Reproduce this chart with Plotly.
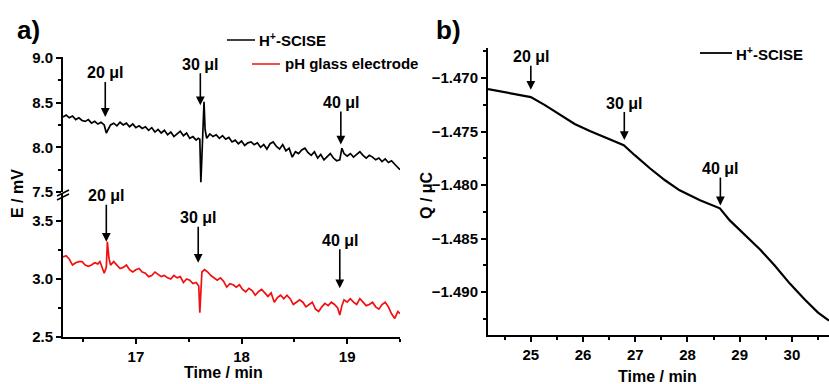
import plotly.graph_objects as go

# ---------------- data ----------------
# Panel a: H+-SCISE potential (mV), upper part
t_scise = [16.31, 16.34, 16.37, 16.40, 16.43, 16.46, 16.49, 16.52, 16.55, 16.58, 16.61, 16.64, 16.67, 16.70,
           16.72, 16.74, 16.76, 16.79, 16.82, 16.85, 16.88, 16.91, 16.94, 16.97, 17.00, 17.03, 17.06, 17.09,
           17.12, 17.15, 17.18, 17.21, 17.24, 17.27, 17.30, 17.33, 17.36, 17.39, 17.42, 17.45, 17.48, 17.51,
           17.54, 17.57, 17.59, 17.605, 17.615, 17.625, 17.635, 17.645, 17.655, 17.67, 17.70, 17.73, 17.76,
           17.79, 17.82, 17.85, 17.88, 17.91, 17.94, 17.97, 18.00, 18.03, 18.06, 18.09, 18.12, 18.15, 18.18,
           18.21, 18.24, 18.27, 18.30, 18.33, 18.36, 18.39, 18.42, 18.45, 18.48, 18.51, 18.54, 18.57, 18.60,
           18.63, 18.66, 18.69, 18.72, 18.75, 18.78, 18.81, 18.84, 18.87, 18.90, 18.93, 18.95, 18.97, 19.00,
           19.03, 19.06, 19.09, 19.12, 19.15, 19.18, 19.21, 19.24, 19.27, 19.30, 19.33, 19.36, 19.39, 19.42,
           19.45, 19.48, 19.50]
e_scise = [8.34, 8.36, 8.33, 8.35, 8.31, 8.33, 8.30, 8.29, 8.31, 8.27, 8.29, 8.26, 8.28, 8.25,
           8.16, 8.21, 8.25, 8.27, 8.24, 8.28, 8.25, 8.27, 8.23, 8.26, 8.22, 8.24, 8.21, 8.23,
           8.19, 8.22, 8.17, 8.20, 8.16, 8.19, 8.14, 8.17, 8.12, 8.15, 8.18, 8.13, 8.16, 8.10,
           8.12, 8.08, 8.10, 8.09, 7.61, 7.90, 8.30, 8.51, 8.20, 8.10, 8.15, 8.12, 8.14,
           8.10, 8.13, 8.09, 8.11, 8.06, 8.08, 8.04, 8.07, 8.02, 8.05, 8.06, 8.03, 8.05, 8.00,
           8.03, 7.98, 8.04, 8.06, 8.01, 7.98, 8.03, 7.96, 7.99, 7.89, 7.95, 7.93, 7.97, 7.99,
           7.94, 7.91, 7.95, 7.88, 7.92, 7.86, 7.90, 7.93, 7.88, 7.85, 7.86, 7.99, 7.93, 7.90,
           7.93, 7.89, 7.92, 7.95, 7.91, 7.88, 7.91, 7.89, 7.86, 7.88, 7.84, 7.87, 7.83, 7.85,
           7.81, 7.77, 7.75]

# Panel a: pH glass electrode potential (mV), lower part
t_glass = [16.31, 16.34, 16.37, 16.40, 16.43, 16.46, 16.49, 16.52, 16.55, 16.58, 16.61, 16.64, 16.66, 16.69,
           16.70, 16.72, 16.73, 16.745, 16.76, 16.79, 16.82, 16.85, 16.88, 16.91, 16.94, 16.97, 17.00, 17.03,
           17.06, 17.09, 17.12, 17.15, 17.18, 17.21, 17.24, 17.27, 17.30, 17.33, 17.36, 17.39, 17.42, 17.45,
           17.48, 17.51, 17.54, 17.57, 17.595, 17.605, 17.615, 17.625, 17.65, 17.68, 17.71, 17.74, 17.77,
           17.80, 17.83, 17.86, 17.89, 17.92, 17.95, 17.98, 18.01, 18.04, 18.07, 18.10, 18.13, 18.16, 18.19,
           18.22, 18.25, 18.28, 18.31, 18.34, 18.37, 18.40, 18.43, 18.46, 18.49, 18.52, 18.55, 18.58, 18.61,
           18.64, 18.67, 18.70, 18.73, 18.76, 18.79, 18.82, 18.85, 18.88, 18.91, 18.93, 18.95, 18.97, 19.00,
           19.03, 19.06, 19.09, 19.12, 19.15, 19.18, 19.21, 19.24, 19.27, 19.30, 19.33, 19.36, 19.39, 19.42,
           19.45, 19.48, 19.50]
e_glass = [3.19, 3.20, 3.17, 3.12, 3.14, 3.15, 3.15, 3.12, 3.11, 3.12, 3.14, 3.13, 3.15, 3.08,
           3.05, 3.10, 3.32, 3.18, 3.12, 3.15, 3.12, 3.09, 3.10, 3.12, 3.08, 3.06, 3.08, 3.09,
           3.06, 3.05, 3.02, 3.03, 3.06, 3.04, 3.02, 3.03, 3.01, 3.00, 3.03, 3.01, 3.02, 2.97,
           3.00, 2.99, 2.96, 2.97, 2.94, 2.71, 2.95, 3.06, 3.08, 3.06, 3.03, 3.01, 2.99,
           3.01, 2.98, 2.93, 2.96, 2.95, 2.93, 2.95, 2.91, 2.89, 2.92, 2.90, 2.86, 2.89, 2.91,
           2.88, 2.85, 2.88, 2.80, 2.84, 2.86, 2.83, 2.86, 2.83, 2.78, 2.80, 2.82, 2.80, 2.76,
           2.78, 2.80, 2.74, 2.72, 2.76, 2.79, 2.77, 2.80, 2.78, 2.75, 2.69, 2.77, 2.82, 2.80,
           2.83, 2.80, 2.78, 2.83, 2.80, 2.77, 2.78, 2.80, 2.76, 2.74, 2.78, 2.80, 2.76, 2.70,
           2.66, 2.72, 2.70]

# Panel b: charge (uC)
t_charge = [24.18, 24.60, 25.00, 25.27, 25.56, 25.84, 26.13, 26.51, 26.78, 26.99, 27.28, 27.57, 27.85,
            28.24, 28.62, 28.81, 29.10, 29.39, 29.67, 29.96, 30.25, 30.50, 30.71]
q_charge = [-1.47103, -1.47140, -1.47178, -1.47253, -1.47346, -1.47430, -1.47496, -1.47571, -1.47627,
            -1.47721, -1.47843, -1.47955, -1.48049, -1.48142, -1.48217, -1.48330, -1.48470, -1.48601,
            -1.48751, -1.48920, -1.49070, -1.49191, -1.49266]

# injections (labels, times, arrow tip values)
inj_labels = ["20 μl", "30 μl", "40 μl"]
inj_t_a_top = [16.71, 17.61, 18.94]
inj_v_a_top = [8.34, 8.47, 8.03]
inj_t_a_bot = [16.72, 17.59, 18.93]
inj_v_a_bot = [3.32, 3.14, 2.92]
inj_t_b = [25.0, 26.79, 28.63]
inj_v_b = [-1.4711, -1.4758, -1.4819]

# ---------------- figure ----------------
W, H = 829, 384
FONT = "Liberation Sans"


def px(x):
    return x / W


def py(y):
    return 1 - y / H


fig = go.Figure()
fig.add_trace(go.Scatter(x=t_scise, y=e_scise, mode="lines", line=dict(color="black", width=1.7),
                         xaxis="x2", yaxis="y2", showlegend=False))
fig.add_trace(go.Scatter(x=t_glass, y=e_glass, mode="lines", line=dict(color="#f01010", width=1.7),
                         xaxis="x", yaxis="y", showlegend=False))
fig.add_trace(go.Scatter(x=t_charge, y=q_charge, mode="lines", line=dict(color="black", width=2.2),
                         xaxis="x3", yaxis="y3", showlegend=False))

tickfont = dict(family=FONT, size=15, color="black", weight="bold")
common = dict(showgrid=False, zeroline=False, showline=True, linecolor="black", linewidth=2,
              automargin=False,
              ticks="outside", ticklen=5, tickwidth=1.5, tickcolor="black", tickfont=tickfont)

fig.update_layout(
    template="none",
    width=W, height=H, margin=dict(l=0, r=0, t=0, b=0, pad=0, autoexpand=False),
    paper_bgcolor="white", plot_bgcolor="white", showlegend=False,
    xaxis=dict(domain=[px(63), px(400)], range=[16.31, 19.5], anchor="y", dtick=1, tick0=17,
               minor=dict(dtick=0.5, tick0=16.5, ticks="outside", ticklen=3, tickcolor="black"), **common),
    yaxis=dict(domain=[py(337), py(193)], range=[2.5, 3.741], anchor="x", dtick=0.5, tick0=2.5,
               tickformat=".1f",
               minor=dict(dtick=0.25, tick0=2.5, ticks="outside", ticklen=3, tickcolor="black"), **common),
    xaxis2=dict(domain=[px(63), px(400)], range=[16.31, 19.5], anchor="y2", visible=False),
    yaxis2=dict(domain=[py(192), py(57)], range=[7.5, 9.01], anchor="x2", dtick=0.5, tick0=7.5,
                tickformat=".1f",
                minor=dict(dtick=0.25, tick0=7.5, ticks="outside", ticklen=3, tickcolor="black"), **common),
    xaxis3=dict(domain=[px(488), 1.0], range=[24.18, 30.71], anchor="y3", dtick=1, tick0=25,
                minor=dict(dtick=0.5, tick0=24.5, ticks="outside", ticklen=3, tickcolor="black"), **common),
    yaxis3=dict(domain=[py(335), py(48)], range=[-1.4940, -1.4672], anchor="x3", dtick=0.005, tick0=-1.49,
                tickformat=".3f",
                minor=dict(dtick=0.0025, tick0=-1.49, ticks="outside", ticklen=3, tickcolor="black"), **common),
)

ann = []
lblfont = dict(family=FONT, size=16, color="black", weight="bold")


def add_arrows(xref, yref, ts, vs, ays):
    for lab, t, v, ay in zip(inj_labels, ts, vs, ays):
        ann.append(dict(x=t, y=v, xref=xref, yref=yref, text=lab, showarrow=True, arrowhead=2,
                        arrowsize=1.1, arrowwidth=1.6, arrowcolor="black", ax=0, ay=ay,
                        font=lblfont, borderpad=0))


add_arrows("x2", "y2", inj_t_a_top, inj_v_a_top, [-44, -41, -42])
add_arrows("x", "y", inj_t_a_bot, inj_v_a_bot, [-46, -45, -48])
add_arrows("x3", "y3", inj_t_b, inj_v_b, [-33, -37, -37])


def label(x, y, text, font, **kw):
    d = dict(x=px(x), y=py(y), xref="paper", yref="paper", text=text, showarrow=False,
             xanchor="center", yanchor="middle", font=font)
    d.update(kw)
    ann.append(d)


letterfont = dict(family=FONT, size=26, color="black", weight="bold")
label(28, 30, "a)", letterfont)
label(448, 30, "b)", letterfont)

titlefont = dict(family=FONT, size=16, color="black", weight="bold")
label(17, 194, "E / mV", titlefont, textangle=-90)
label(426, 195, "Q / μC", titlefont, textangle=-90)
label(223, 372, "Time / min", titlefont)
label(657, 376, "Time / min", titlefont)

legfont = dict(family=FONT, size=15, color="black", weight="bold")
label(257, 40, "H<sup>+</sup>-SCISE", legfont, xanchor="left")
label(283, 64, "pH glass electrode", legfont, xanchor="left")
label(734, 53, "H<sup>+</sup>-SCISE", legfont, xanchor="left")
fig.update_layout(annotations=ann)

shapes = [
    dict(type="line", xref="paper", yref="paper", x0=px(227), x1=px(255), y0=py(40), y1=py(40),
         line=dict(color="black", width=1.5)),
    dict(type="line", xref="paper", yref="paper", x0=px(252), x1=px(280), y0=py(64), y1=py(64),
         line=dict(color="#f01010", width=1.5)),
    dict(type="line", xref="paper", yref="paper", x0=px(700), x1=px(732), y0=py(53), y1=py(53),
         line=dict(color="black", width=1.8)),
    # axis break marks
    dict(type="line", xref="paper", yref="paper", x0=px(57), x1=px(69), y0=py(196), y1=py(190),
         line=dict(color="black", width=1.5)),
    dict(type="line", xref="paper", yref="paper", x0=px(57), x1=px(69), y0=py(200), y1=py(194),
         line=dict(color="black", width=1.5)),
]
fig.update_layout(shapes=shapes)

fig.write_html("out.html")
